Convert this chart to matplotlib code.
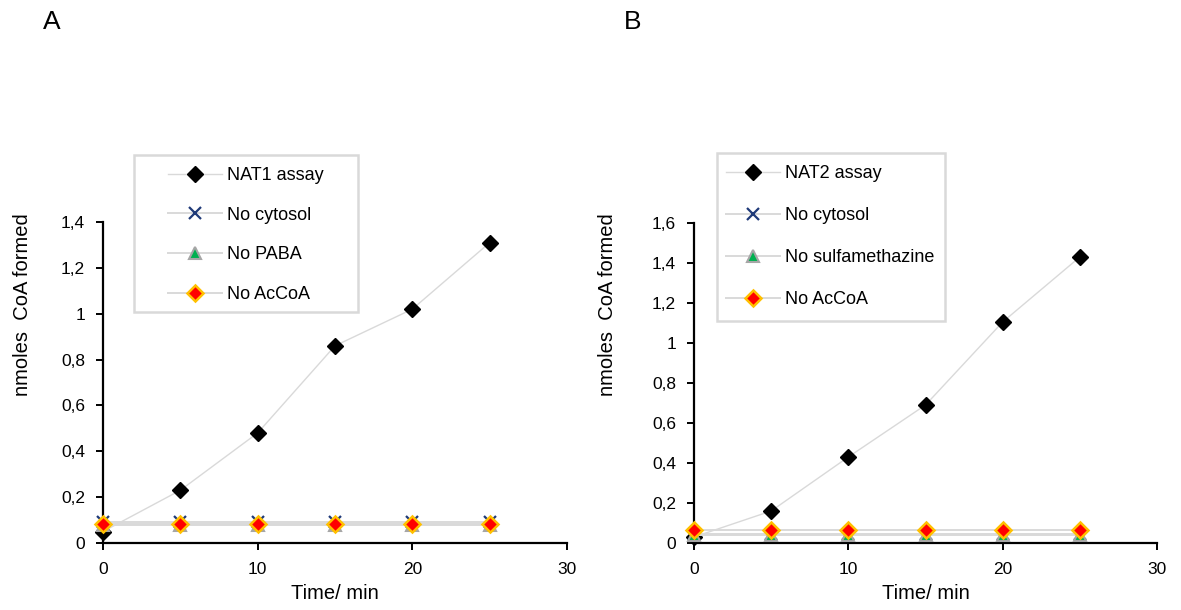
import matplotlib
matplotlib.use('Agg')
import matplotlib.pyplot as plt
from matplotlib.patches import Rectangle
from matplotlib.ticker import FuncFormatter, MultipleLocator

plt.rcParams['font.family'] = ['Liberation Sans', 'DejaVu Sans']

# data
time_min = [0, 5, 10, 15, 20, 25]

nat1_assay = [0.05, 0.23, 0.48, 0.86, 1.02, 1.31]
nat1_no_cytosol = [0.09, 0.09, 0.09, 0.09, 0.09, 0.09]
nat1_no_paba = [0.08, 0.08, 0.08, 0.08, 0.08, 0.08]
nat1_no_accoa = [0.085, 0.085, 0.085, 0.085, 0.085, 0.085]

nat2_assay = [0.03, 0.16, 0.43, 0.69, 1.105, 1.43]
nat2_no_cytosol = [0.045, 0.045, 0.045, 0.045, 0.045, 0.045]
nat2_no_sulfa = [0.04, 0.04, 0.04, 0.04, 0.04, 0.04]
nat2_no_accoa = [0.065, 0.065, 0.065, 0.065, 0.065, 0.065]

labels_a = ['NAT1 assay', 'No cytosol', 'No PABA', 'No AcCoA']
labels_b = ['NAT2 assay', 'No cytosol', 'No sulfamethazine', 'No AcCoA']

LINE = '#d9d9d9'
W, H = 1181, 610


def comma_fmt(v, pos):
    return f'{v:g}'.replace('.', ',')


def fx(px):
    return px / W


def fy(py):
    return 1 - py / H


def draw_panel(fig, ax, series, labels, ymax, ylabel_x, leg_box, leg_anchor, spacing, letter, letter_x):
    assay, cyt, sub, acc = series
    ax.plot(time_min, assay, color=LINE, lw=1.0, marker='D', ms=8.5,
            mfc='black', mec='black', clip_on=False, zorder=3, label=labels[0])
    ax.plot(time_min, cyt, color=LINE, lw=1.4, marker='x', ms=8, mew=1.6,
            mec='#1f3a78', clip_on=False, zorder=4, label=labels[1])
    ax.plot(time_min, sub, color=LINE, lw=1.4, marker='^', ms=9, mew=1.5,
            mfc='#00b050', mec='#a6a6a6', clip_on=False, zorder=5, label=labels[2])
    ax.plot(time_min, acc, color=LINE, lw=1.4, marker='D', ms=8.5, mew=1.8,
            mfc='#ff0000', mec='#ffc000', clip_on=False, zorder=6, label=labels[3])

    ax.set_xlim(0, 30)
    ax.set_ylim(0, ymax)
    ax.xaxis.set_major_locator(MultipleLocator(10))
    ax.yaxis.set_major_locator(MultipleLocator(0.2))
    ax.yaxis.set_major_formatter(FuncFormatter(comma_fmt))
    for s in ['top', 'right']:
        ax.spines[s].set_visible(False)
    for s in ['left', 'bottom']:
        ax.spines[s].set_linewidth(1.6)
    ax.tick_params(axis='y', direction='out', length=5, width=1.4, labelsize=12.5, pad=8)
    ax.tick_params(axis='x', direction='out', length=5, width=1.4, labelsize=12.5, pad=9)

    ax.set_xlabel('Time/ min', fontsize=14.5, labelpad=5)
    ax.set_ylabel('nmoles  CoA formed', fontsize=14.5)
    ax.yaxis.label.set_verticalalignment('center')
    ax.yaxis.set_label_coords(ylabel_x, 0.5, transform=fig.transFigure)

    # legend without frame, frame drawn by hand at the reference position
    ax.legend(loc='upper left', bbox_to_anchor=leg_anchor,
              bbox_transform=fig.transFigure, fontsize=13,
              handlelength=3.0, handletextpad=0.25, labelspacing=spacing,
              borderpad=0, borderaxespad=0, frameon=False)
    x0, y0, x1, y1 = leg_box
    fig.patches.append(Rectangle((fx(x0), fy(y1)), fx(x1) - fx(x0), fy(y0) - fy(y1),
                                 transform=fig.transFigure, fill=False,
                                 edgecolor=LINE, linewidth=1.8, zorder=0))

    fig.text(letter_x, fy(22), letter, fontsize=19, ha='center', va='center')


fig = plt.figure(figsize=(W / 100, H / 100), dpi=100)
ax_a = fig.add_axes([fx(103), fy(543), fx(567) - fx(103), fy(222) - fy(543)])
ax_b = fig.add_axes([fx(694), fy(543), fx(1157) - fx(694), fy(223) - fy(543)])

draw_panel(fig, ax_a, (nat1_assay, nat1_no_cytosol, nat1_no_paba, nat1_no_accoa),
           labels_a, 1.4, fx(23), (134, 155, 358, 312), (fx(168), fy(167)), 1.26,
           'A', fx(52))
draw_panel(fig, ax_b, (nat2_assay, nat2_no_cytosol, nat2_no_sulfa, nat2_no_accoa),
           labels_b, 1.6, fx(608), (717, 153, 945, 321), (fx(726), fy(165)), 1.39,
           'B', fx(633))

fig.savefig('out.png', dpi=100)
